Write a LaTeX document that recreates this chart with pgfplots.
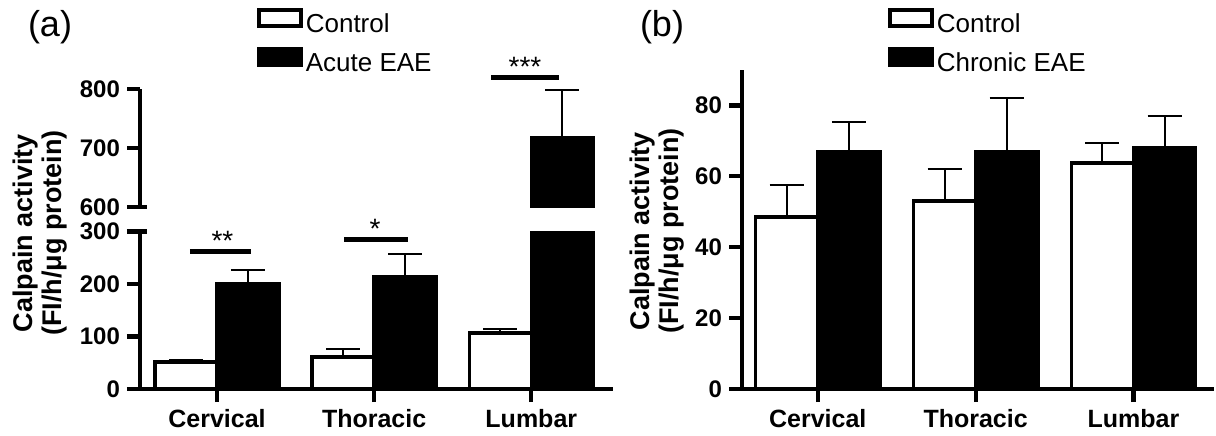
\documentclass[border=0pt]{standalone}
\usepackage{pgfplots}
\pgfplotsset{compat=1.18}
\usepackage{fontspec}
\setmainfont{Liberation Sans}

\begin{document}
\begin{tikzpicture}
\useasboundingbox (0,0) rectangle (608pt,217.5pt);
\pgfplotsset{
  common/.style={
    scale only axis, enlargelimits=false, clip mode=individual,
    axis line style={line width=2.1pt},
    tick style={line width=2.1pt, black},
    tick align=outside, major tick length=6.5pt,
    tick label style={font=\fontsize{12}{12}\selectfont\bfseries},
    /pgf/number format/assume math mode=true,
    ybar, bar width=0.394,
    x tick label style={font=\fontsize{12.5}{12.5}\selectfont\bfseries},
    legend style={draw=none, fill=none, inner sep=0pt, outer sep=0pt, anchor=north west,
      font=\fontsize{13}{13}\selectfont, row sep=5.5pt, column sep=1.5pt,
      nodes={inner sep=0pt}},
    legend cell align=left,
  },
  errs/.style={error bars/.cd, y dir=plus, y explicit,
    error bar style={line width=1pt, black, solid},
    error mark options={rotate=90, line width=1pt, mark size=8.5pt, black, solid}},
  ctrl/.style={fill=white, draw=black, line width=1.75pt, bar shift=-0.197,
    legend image code/.code={\draw[fill=white, draw=black, line width=2pt] (0pt,-0.5pt) rectangle (21pt,7.5pt);}},
  dis/.style={fill=black, draw=black, line width=1.75pt, bar shift=0.197,
    legend image code/.code={\draw[fill=black, draw=black, line width=2pt] (0pt,-0.5pt) rectangle (21pt,7.5pt);}},
}
% ---------- panel (a), lower part ----------
\begin{axis}[common, at={(70pt,23pt)}, anchor=south west, width=236.5pt, height=78.75pt,
  xmin=-0.49, xmax=2.52, ymin=0, ymax=300, ytick={0,100,200,300},
  xtick={0,1,2}, xticklabels={Cervical,Thoracic,Lumbar},
  axis x line*=bottom, axis y line*=left,
  ylabel={Calpain activity\\(FI/h/μg protein)},
  ylabel style={at={(axis description cs:-0.211,0.99)}, anchor=center, align=center,
    font=\fontsize{13.5}{14.5}\selectfont\bfseries},
  legend style={at={(0.247,2.42)}}]
\addplot[ctrl, errs] coordinates {(0,51) +- (0,4) (1,61) +- (0,15) (2,107) +- (0,7)};
\addlegendentry{Control}
\addplot[dis, errs] coordinates {(0,200) +- (0,27) (1,213) +- (0,44) (2,717) +- (0,81)};
\addlegendentry{Acute EAE}
\draw[line width=2.5pt] (axis cs:-0.172,261) -- (axis cs:0.217,261);
\node[anchor=base, inner sep=0pt, font=\fontsize{14}{14}\selectfont] at (axis cs:0.035,263) {**};
\draw[line width=2.5pt] (axis cs:0.81,284) -- (axis cs:1.217,284);
\node[anchor=base, inner sep=0pt, font=\fontsize{14}{14}\selectfont] at (axis cs:1.006,286) {*};
\draw[line width=2.1pt] (axis cs:-0.49,300) -- ++(3.5pt,0pt);
\end{axis}
% ---------- panel (a), upper part ----------
\begin{axis}[common, at={(70pt,114pt)}, anchor=south west, width=236.5pt, height=59pt,
  xmin=-0.49, xmax=2.52, ymin=600, ymax=800, ytick={600,700,800},
  axis x line=none, axis y line*=left]
\addplot[dis, errs] coordinates {(2,717) +- (0,81)};
\draw[line width=2.5pt] (axis cs:1.745,820) -- (axis cs:2.178,820);
\node[anchor=base, inner sep=0pt, font=\fontsize{14}{14}\selectfont] at (axis cs:1.96,822) {***};
\draw[line width=2.1pt] (axis cs:-0.49,600) -- ++(3.5pt,0pt);
\end{axis}
% ---------- panel (b) ----------
\begin{axis}[common, at={(371pt,23pt)}, anchor=south west, width=236pt, height=159.5pt,
  xmin=-0.48, xmax=2.51, ymin=0, ymax=90, ytick={0,20,40,60,80},
  xtick={0,1,2}, xticklabels={Cervical,Thoracic,Lumbar},
  axis x line*=bottom, axis y line*=left,
  ylabel={Calpain activity\\(FI/h/μg protein)},
  ylabel style={at={(axis description cs:-0.18,0.495)}, anchor=center, align=center,
    font=\fontsize{13.5}{14.5}\selectfont\bfseries},
  legend style={at={(0.309,1.195)}}]
\addplot[ctrl, errs] coordinates {(0,48.5) +- (0,9) (1,53) +- (0,9) (2,63.7) +- (0,5.6)};
\addlegendentry{Control}
\addplot[dis, errs] coordinates {(0,66.8) +- (0,8.4) (1,66.8) +- (0,15.2) (2,68.2) +- (0,8.8)};
\addlegendentry{Chronic EAE}
\end{axis}
\node[font=\fontsize{18}{18}\selectfont] at (25pt,204pt) {(a)};
\node[font=\fontsize{18}{18}\selectfont] at (331pt,204pt) {(b)};
\end{tikzpicture}
\end{document}
